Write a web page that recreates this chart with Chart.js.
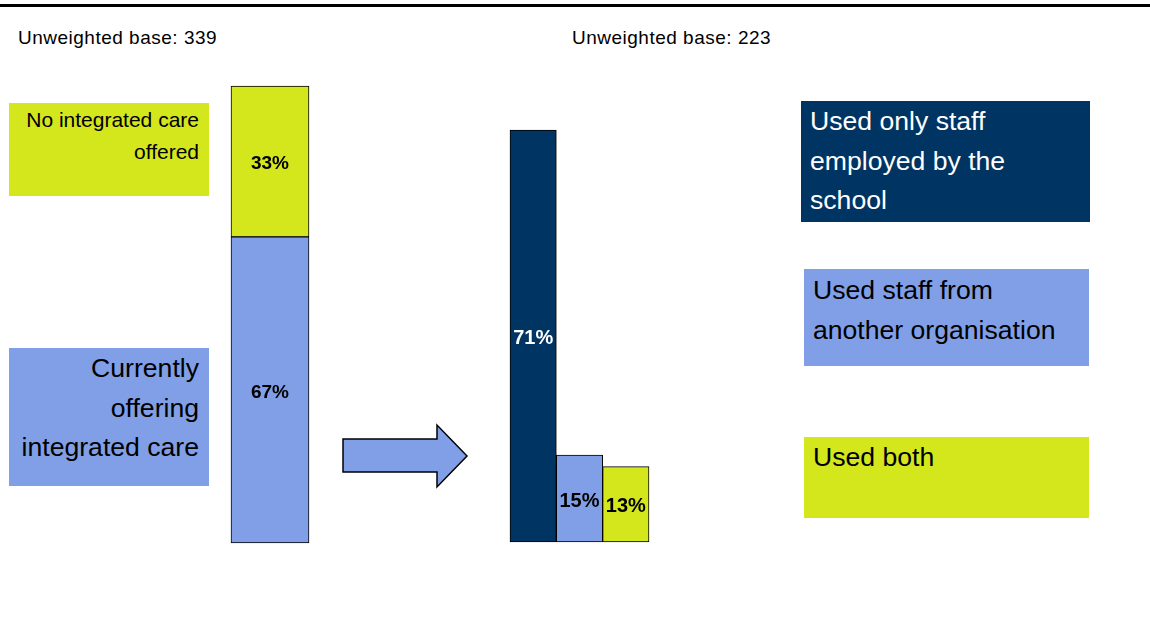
<!DOCTYPE html>
<html>
<head>
<meta charset="utf-8">
<script src="https://cdn.jsdelivr.net/npm/chart.js@4/dist/chart.umd.min.js"></script>
<style>
  html, body { margin:0; padding:0; background:#fff; }
  #wrap { position:relative; width:1150px; height:644px; overflow:hidden; font-family:"Liberation Sans", Arial, Helvetica, sans-serif; }
  canvas { position:absolute; left:0; top:0; }
  .topline { position:absolute; left:0; top:4px; width:1150px; height:3px; background:#000; }
  .base { position:absolute; top:27px; font-size:19px; line-height:22px; letter-spacing:0.5px; color:#000; white-space:nowrap; }
  .box { position:absolute; box-sizing:border-box; }
  .txt { position:absolute; white-space:nowrap; }
</style>
</head>
<body>
<div id="wrap">
  <div class="topline"></div>
  <div class="base" style="left:18px">Unweighted base: 339</div>
  <div class="base" style="left:572px">Unweighted base: 223</div>

  <div class="box" style="left:9px;top:103px;width:200px;height:93px;background:#D4E61C"></div>
  <div class="txt" style="right:951px;top:104px;font-size:21px;line-height:32px;text-align:right;color:#000">No integrated care<br>offered</div>

  <div class="box" style="left:9px;top:348px;width:200px;height:138px;background:#809FE6"></div>
  <div class="txt" style="right:951px;top:349px;font-size:26.6px;line-height:39.5px;text-align:right;color:#000">Currently<br>offering<br>integrated care</div>

  <div class="box" style="left:801px;top:101px;width:289px;height:121px;background:#003462"></div>
  <div class="txt" style="left:810px;top:102px;font-size:26.6px;line-height:39.5px;color:#fff">Used only staff<br>employed by the<br>school</div>

  <div class="box" style="left:804px;top:269px;width:285px;height:97px;background:#809FE6"></div>
  <div class="txt" style="left:813px;top:271px;font-size:26.6px;line-height:39.5px;color:#000">Used staff from<br>another organisation</div>

  <div class="box" style="left:804px;top:437px;width:285px;height:81px;background:#D4E61C"></div>
  <div class="txt" style="left:813px;top:438px;font-size:26.6px;line-height:39.5px;color:#000">Used both</div>

  <svg style="position:absolute;left:0;top:0" width="1150" height="644">
    <polygon points="343,439 437,439 437,425 467,456 437,487 437,472 343,472" fill="#809FE6" stroke="#000" stroke-width="1.5" stroke-linejoin="miter"/>
  </svg>

  <canvas id="c1" width="1150" height="644"></canvas>
  <canvas id="c2" width="1150" height="644"></canvas>
</div>
<script>
// ---- data ----
const leftCategories = ["All schools"];
const leftSeriesNames = ["Currently offering integrated care", "No integrated care offered"];
const leftOffering = [67];
const leftNotOffering = [33];

const rightCategories = ["Used only staff employed by the school", "Used staff from another organisation", "Used both"];
const rightValues = [71, 15, 13];

const BLUE = "#809FE6", LIME = "#D4E61C", NAVY = "#003462";

const valueLabels = {
  id: "valueLabels",
  afterDatasetsDraw(chart, args, opts) {
    const ctx = chart.ctx;
    ctx.save();
    ctx.textAlign = "center";
    ctx.textBaseline = "middle";
    ctx.font = "bold " + opts.size + "px 'Liberation Sans', Arial, sans-serif";
    chart.data.datasets.forEach((ds, di) => {
      const meta = chart.getDatasetMeta(di);
      meta.data.forEach((el, i) => {
        const v = ds.data[i];
        const col = Array.isArray(ds.labelColor) ? ds.labelColor[i] : (ds.labelColor || "#000");
        ctx.fillStyle = col;
        const yc = (el.y + el.base) / 2 + 2.5;
        ctx.fillText(v + "%", el.x, yc);
      });
    });
    ctx.restore();
  }
};

const commonOpts = {
  responsive: false,
  animation: false,
  events: [],
  plugins: { legend: { display: false }, tooltip: { enabled: false } },
};

new Chart(document.getElementById("c1"), {
  type: "bar",
  data: {
    labels: leftCategories,
    datasets: [
      { label: leftSeriesNames[0], data: leftOffering, backgroundColor: BLUE, borderColor: "#000", borderWidth: 1, borderSkipped: false, labelColor: "#000", barPercentage: 1, categoryPercentage: 1, clip: false },
      { label: leftSeriesNames[1], data: leftNotOffering, backgroundColor: LIME, borderColor: "#000", borderWidth: 1, borderSkipped: false, labelColor: "#000", barPercentage: 1, categoryPercentage: 1, clip: false }
    ]
  },
  options: Object.assign({}, commonOpts, {
    layout: { padding: { left: 231, right: 841, top: 86, bottom: 101 } },
    scales: {
      x: { display: false, stacked: true },
      y: { display: false, stacked: true, min: 0, max: 100 }
    },
    plugins: Object.assign({}, commonOpts.plugins, { valueLabels: { size: 19 } })
  }),
  plugins: [valueLabels]
});

new Chart(document.getElementById("c2"), {
  type: "bar",
  data: {
    labels: rightCategories,
    datasets: [
      { label: "Share", data: rightValues, backgroundColor: [NAVY, BLUE, LIME], borderColor: "#000", borderWidth: 1, borderSkipped: false, labelColor: ["#fff", "#000", "#000"], barPercentage: 1, categoryPercentage: 1, clip: false }
    ]
  },
  options: Object.assign({}, commonOpts, {
    layout: { padding: { left: 510, right: 501, top: 78, bottom: 102 } },
    scales: {
      x: { display: false },
      y: { display: false, min: 0, max: 80 }
    },
    plugins: Object.assign({}, commonOpts.plugins, { valueLabels: { size: 20 } })
  }),
  plugins: [valueLabels]
});
</script>
</body>
</html>
